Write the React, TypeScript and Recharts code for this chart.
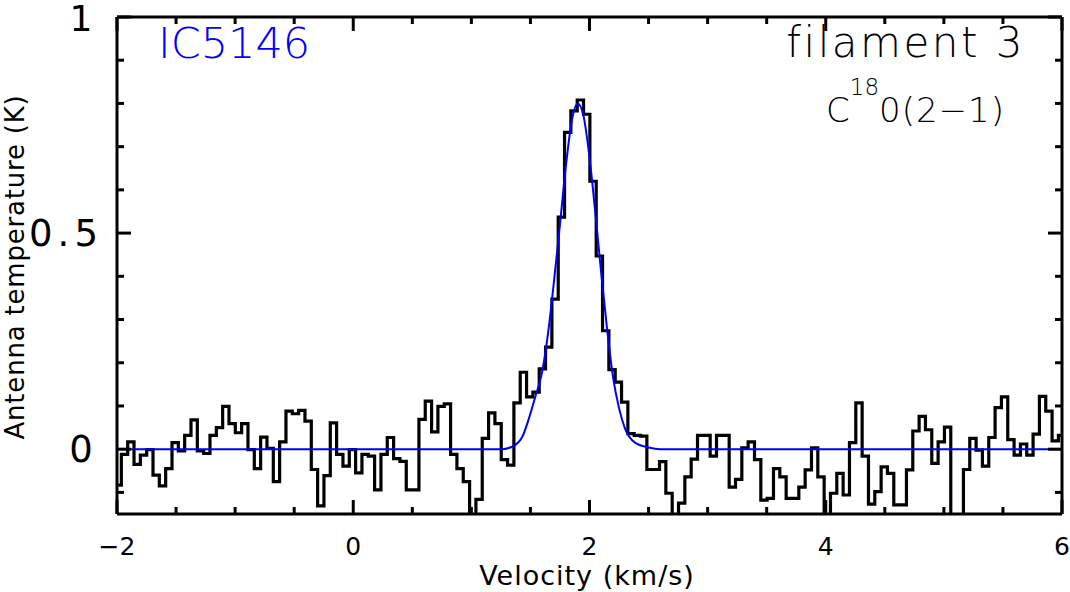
import { LineChart, Line, XAxis, YAxis } from 'recharts';

// spectrum: channel grid (km/s)
const V0 = -1.99;
const DV = 0.0536;

// antenna temperature per channel (K)
const tant = [
  -0.083, -0.012, 0.017, -0.035, -0.014, -0.001, -0.06, -0.085, -0.045, 0.015,
  -0.004, 0.032, 0.068, -0.004, -0.01, 0.032, 0.05, 0.099, 0.059, 0.038,
  0.059, -0.001, -0.045, 0.028, 0.002, -0.075, 0.017, 0.088, 0.082, 0.09,
  0.065, -0.047, -0.131, -0.061, 0.061, -0.012, -0.039, -0.001, -0.055, -0.012,
  -0.016, -0.094, -0.012, 0.027, -0.022, -0.028, -0.094, -0.094, 0.069, 0.111,
  0.04, 0.099, 0.105, -0.012, -0.045, -0.075, -0.16, -0.116, 0.025, 0.084,
  0.059, -0.024, -0.037, 0.107, 0.178, 0.121, 0.132, 0.186, 0.236, 0.347,
  0.537, 0.733, 0.783, 0.808, 0.775, 0.62, 0.447, 0.274, 0.184, 0.155,
  0.109, 0.036, 0.032, 0.03, -0.047, -0.047, -0.029, -0.102, -0.17, -0.125,
  -0.064, -0.023, 0.032, 0.032, -0.016, 0.032, 0.032, -0.088, -0.07, 0.003,
  0.017, -0.024, -0.118, -0.114, -0.045, -0.064, -0.114, -0.114, -0.088, -0.048,
  0.003, -0.064, -0.17, -0.102, -0.056, -0.106, 0.015, 0.107, -0.016, -0.127,
  -0.098, -0.041, -0.056, -0.129, -0.129, -0.048, 0.042, 0.076, 0.045, -0.033,
  0.017, 0.051, -0.17, -0.17, -0.047, 0.025, -0.002, -0.039, 0.027, 0.096,
  0.121, 0.022, -0.014, 0.012, -0.014, 0.035, 0.122, 0.088, 0.019, 0.032,
];

// gaussian fit
const fitV = [-2, 1.25, 1.34, 1.43, 1.48, 1.54, 1.6, 1.65, 1.7, 1.75, 1.8, 1.85, 1.9,
  1.95, 2.0, 2.05, 2.1, 2.15, 2.2, 2.25, 2.3, 2.385, 2.5, 2.6, 4, 6, 6.1];
const fitT = [0, 0, 0.005, 0.028, 0.065, 0.12, 0.18, 0.27, 0.39, 0.52, 0.655, 0.76, 0.8,
  0.77, 0.675, 0.545, 0.405, 0.275, 0.165, 0.095, 0.048, 0.015, 0.004, 0, 0, 0, 0];

const xTicks = [-2, -1.5, -1, -0.5, 0, 0.5, 1, 1.5, 2, 2.5, 3, 3.5, 4, 4.5, 5, 5.5, 6];
const xLabels = [-2, 0, 2, 4, 6];
const yTicks = [-0.1, 0, 0.1, 0.2, 0.3, 0.4, 0.5, 0.6, 0.7, 0.8, 0.9, 1];
const yLabels = [0, 0.5, 1];

const spectrum = tant.map((t, i) => ({ v: V0 + i * DV, t }));
const fit = fitV.map((v, i) => ({ v, t: fitT[i] }));

const FONT = '"DejaVu Sans", sans-serif';
const fmt = (n: number) => String(n).replace('-', '\u2212');

const BottomTick = ({ x, y, payload }: any) => {
  const major = xLabels.includes(payload.value);
  return (
    <g>
      <line x1={x} x2={x} y1={y} y2={y - (major ? 14 : 7)} stroke="#000" strokeWidth={3} />
      {major && (
        <text x={x} y={y + 41} textAnchor="middle" fontSize={25} fontFamily={FONT} fill="#000">
          {fmt(payload.value)}
        </text>
      )}
    </g>
  );
};

const TopTick = ({ x, y, payload }: any) => {
  const major = xLabels.includes(payload.value);
  return <line x1={x} x2={x} y1={y} y2={y + (major ? 14 : 7)} stroke="#000" strokeWidth={3} />;
};

const LeftTick = ({ x, y, payload }: any) => {
  const major = yLabels.includes(payload.value);
  const v = payload.value;
  return (
    <g>
      <line x1={x} x2={x + (major ? 14 : 7)} y1={y} y2={y} stroke="#000" strokeWidth={3} />
      {major && (
        <text x={v === 0.5 ? 66 : 81} y={v === 1 ? y + 14 : y + 13} textAnchor="middle"
          fontSize={v === 1 ? 36 : 37} fontFamily={FONT} letterSpacing={v === 0.5 ? 5 : 0} fill="#000">
          {fmt(v)}
        </text>
      )}
    </g>
  );
};

const RightTick = ({ x, y, payload }: any) => {
  const major = yLabels.includes(payload.value);
  return <line x1={x} x2={x - (major ? 14 : 7)} y1={y} y2={y} stroke="#000" strokeWidth={3} />;
};

const axisLine = { stroke: '#000', strokeWidth: 3 };

export default function App() {
  return (
    <div style={{ position: 'absolute', left: 0, top: 0, width: 1070, height: 592, background: '#fff' }}>
      <LineChart width={1070} height={592} margin={{ top: 16, right: 7, bottom: 77, left: 116 }}>
        <XAxis dataKey="v" type="number" domain={[-2, 6]} allowDataOverflow ticks={xTicks}
          interval={0} height={1} tickSize={0} tickMargin={0} tickLine={false}
          axisLine={axisLine} tick={BottomTick} />
        <XAxis xAxisId="top" orientation="top" dataKey="v" type="number" domain={[-2, 6]}
          allowDataOverflow ticks={xTicks} interval={0} height={1} tickSize={0} tickMargin={0}
          tickLine={false} axisLine={axisLine} tick={TopTick} />
        <YAxis type="number" domain={[-0.15, 1]} allowDataOverflow ticks={yTicks} interval={0}
          width={1} tickSize={0} tickMargin={0} tickLine={false} axisLine={axisLine} tick={LeftTick} />
        <YAxis yAxisId="right" orientation="right" type="number" domain={[-0.15, 1]}
          allowDataOverflow ticks={yTicks} interval={0} width={1} tickSize={0} tickMargin={0}
          tickLine={false} axisLine={axisLine} tick={RightTick} />
        <Line data={spectrum} dataKey="t" type="step" stroke="#000" strokeWidth={3.2}
          strokeLinejoin="miter" dot={false} activeDot={false} isAnimationActive={false} />
        <Line data={fit} dataKey="t" type="monotone" stroke="#0000ff" strokeWidth={2}
          dot={false} activeDot={false} isAnimationActive={false} />
      </LineChart>
      <svg width={1070} height={592} style={{ position: 'absolute', left: 0, top: 0, pointerEvents: 'none' }}>
        <text x={158} y={58} fontSize={43} fontFamily={FONT} fontWeight={200} fill="#0000ff">IC5146</text>
        <text x={1025} y={57} fontSize={42} fontFamily={FONT} fontWeight={200} textAnchor="end"
          letterSpacing={2.5} fill="#000">filament 3</text>
        <text x={826} y={122} fontSize={34} fontFamily={FONT} fontWeight={200} fill="#000">
          C<tspan fontSize={23} dy={-27}>18</tspan><tspan dy={27} letterSpacing={1}>0(2{'\u2212'}1)</tspan>
        </text>
        <text x={587} y={585} fontSize={27} fontFamily={FONT} textAnchor="middle" letterSpacing={1}
          fill="#000">Velocity (km/s)</text>
        <text transform="translate(24 267) rotate(-90)" fontSize={26} fontFamily={FONT}
          textAnchor="middle" letterSpacing={0.8} fill="#000">Antenna temperature (K)</text>
      </svg>
    </div>
  );
}
